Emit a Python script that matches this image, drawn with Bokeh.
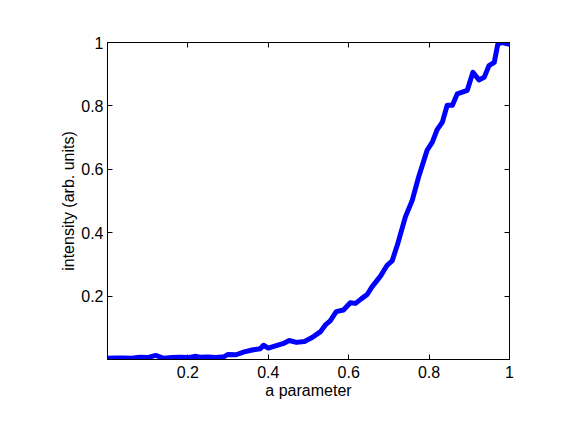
from bokeh.plotting import figure
from bokeh.models import Range1d, LinearAxis, FixedTicker
from bokeh.embed import file_html
from bokeh.resources import INLINE

a_param = [0.00, 0.02, 0.04, 0.06, 0.08, 0.10, 0.12, 0.14, 0.16, 0.18, 0.20, 0.22, 0.23,
           0.25, 0.27, 0.29, 0.30, 0.32, 0.34, 0.36, 0.38, 0.388, 0.40, 0.42, 0.44, 0.452,
           0.47, 0.49, 0.51, 0.53, 0.542, 0.554, 0.569, 0.587, 0.604, 0.617, 0.632, 0.646,
           0.658, 0.679, 0.696, 0.708, 0.721, 0.741, 0.758, 0.774, 0.795, 0.808, 0.820,
           0.833, 0.845, 0.858, 0.870, 0.895, 0.909, 0.924, 0.937, 0.949, 0.962, 0.971,
           0.982, 1.0]
intensity = [0.004, 0.005, 0.005, 0.004, 0.007, 0.006, 0.013, 0.004, 0.006, 0.007, 0.006,
             0.010, 0.007, 0.008, 0.006, 0.009, 0.016, 0.015, 0.024, 0.030, 0.034, 0.045,
             0.036, 0.044, 0.052, 0.060, 0.054, 0.057, 0.070, 0.088, 0.109, 0.122, 0.151,
             0.156, 0.179, 0.177, 0.192, 0.205, 0.229, 0.263, 0.298, 0.311, 0.361, 0.450,
             0.502, 0.576, 0.660, 0.686, 0.725, 0.749, 0.802, 0.802, 0.838, 0.849, 0.906,
             0.882, 0.890, 0.927, 0.937, 0.995, 1.000, 0.994]

x_ticks = [0.2, 0.4, 0.6, 0.8, 1.0]
y_ticks = [0.2, 0.4, 0.6, 0.8, 1.0]
x_tick_labels = {0.2: "0.2", 0.4: "0.4", 0.6: "0.6", 0.8: "0.8", 1.0: "1"}
y_tick_labels = {0.2: "0.2", 0.4: "0.4", 0.6: "0.6", 0.8: "0.8", 1.0: "1"}

FONT = "Liberation Sans"

p = figure(width=565, height=412, output_backend="svg", toolbar_location=None,
           x_range=Range1d(0, 1), y_range=Range1d(0, 1),
           min_border_left=107, min_border_right=56, min_border_top=42, min_border_bottom=53,
           x_axis_label="a parameter", y_axis_label="intensity (arb. units)")
p.grid.visible = False
p.outline_line_color = "black"
p.outline_line_width = 1
p.background_fill_color = "white"
p.border_fill_color = "white"

p.line(a_param, intensity, line_color="#0000ff", line_width=5, line_join="round")

for ax, ticks, labels in ((p.xaxis[0], x_ticks, x_tick_labels), (p.yaxis[0], y_ticks, y_tick_labels)):
    ax.ticker = FixedTicker(ticks=ticks)
    ax.major_label_overrides = labels
    ax.minor_tick_line_color = None
    ax.major_tick_in = 5
    ax.major_tick_out = 0
    ax.axis_line_color = "black"
    ax.major_tick_line_color = "black"
    ax.major_label_text_font = FONT
    ax.major_label_text_font_size = "16px"
    ax.major_label_text_color = "black"
    ax.axis_label_text_font = FONT
    ax.axis_label_text_font_size = "16px"
    ax.axis_label_text_font_style = "normal"
    ax.axis_label_text_color = "black"
    ax.axis_label_standoff = 1
p.xaxis[0].major_label_standoff = 6
p.yaxis[0].major_label_standoff = 4

blank = {t: "" for t in x_ticks}
top = LinearAxis(ticker=FixedTicker(ticks=x_ticks), major_label_overrides=blank,
                 major_tick_in=5, major_tick_out=0, minor_tick_line_color=None,
                 axis_line_color="black", major_label_standoff=0)
right = LinearAxis(ticker=FixedTicker(ticks=y_ticks), major_label_overrides=blank,
                   major_tick_in=5, major_tick_out=0, minor_tick_line_color=None,
                   axis_line_color="black", major_label_standoff=0)
p.add_layout(top, "above")
p.add_layout(right, "right")

open("out.html", "w").write(file_html(p, INLINE))
